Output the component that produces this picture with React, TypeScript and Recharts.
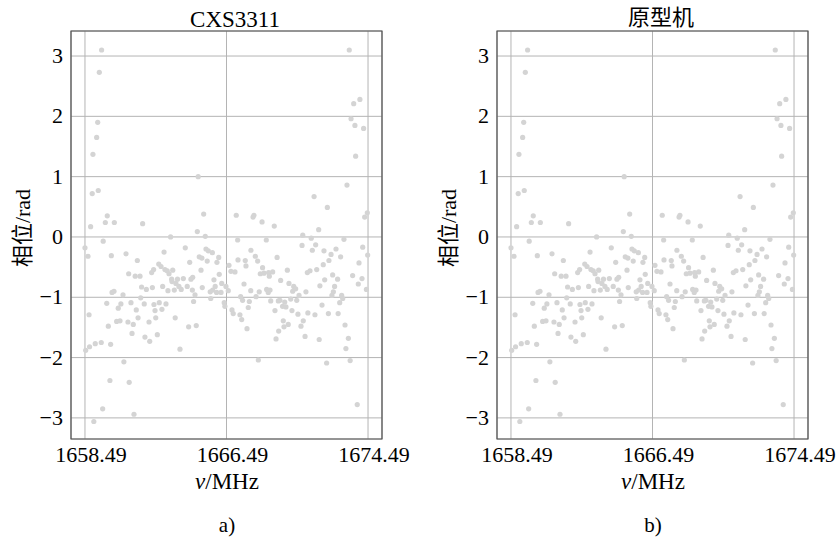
import React from 'react';
import { ScatterChart, Scatter, XAxis, YAxis, CartesianGrid, ReferenceArea } from 'recharts';

const freqMHz = [
  1658.49, 1658.53, 1658.66, 1658.72, 1658.75, 1658.81, 1658.9, 1658.94, 1658.99, 1659.07,
  1659.15, 1659.21, 1659.24, 1659.3, 1659.41, 1659.43, 1659.49, 1659.52, 1659.64, 1659.72,
  1659.75, 1659.81, 1659.9, 1659.94, 1659.98, 1660.02, 1660.13, 1660.15, 1660.28, 1660.37,
  1660.47, 1660.52, 1660.64, 1660.69, 1660.81, 1660.92, 1660.96, 1660.99, 1661.09, 1661.15,
  1661.22, 1661.26, 1661.33, 1661.39, 1661.45, 1661.49, 1661.6, 1661.64, 1661.69, 1661.75,
  1661.84, 1661.88, 1661.96, 1662.11, 1662.15, 1662.26, 1662.3, 1662.37, 1662.39, 1662.45,
  1662.49, 1662.58, 1662.66, 1662.69, 1662.79, 1662.84, 1662.88, 1662.96, 1663.01, 1663.07,
  1663.14, 1663.18, 1663.24, 1663.33, 1663.39, 1663.41, 1663.45, 1663.54, 1663.59, 1663.63,
  1663.72, 1663.8, 1663.86, 1663.93, 1664.05, 1664.16, 1664.27, 1664.35, 1664.41, 1664.48,
  1664.58, 1664.56, 1664.63, 1664.71, 1664.78, 1664.84, 1664.89, 1664.95, 1665.05, 1665.1,
  1665.12, 1665.2, 1665.29, 1665.33, 1665.4, 1665.46, 1665.57, 1665.6, 1665.69, 1665.71,
  1665.78, 1665.85, 1665.93, 1665.95, 1666.05, 1666.08, 1666.18, 1666.22, 1666.36, 1666.4,
  1666.46, 1666.59, 1666.63, 1666.74, 1666.8, 1666.87, 1666.97, 1667.04, 1667.12, 1667.14,
  1667.25, 1667.29, 1667.35, 1667.4, 1667.48, 1667.55, 1667.59, 1667.65, 1667.72, 1667.78,
  1667.86, 1667.87, 1667.99, 1668.04, 1668.12, 1668.16, 1668.25, 1668.29, 1668.34, 1668.4,
  1668.5, 1668.53, 1668.61, 1668.74, 1668.76, 1668.85, 1668.87, 1668.91, 1668.95, 1668.99,
  1669.1, 1669.19, 1669.23, 1669.29, 1669.35, 1669.42, 1669.44, 1669.51, 1669.55, 1669.66,
  1669.7, 1669.74, 1669.78, 1669.85, 1669.93, 1669.98, 1670.02, 1670.12, 1670.19, 1670.23,
  1670.29, 1670.4, 1670.46, 1670.53, 1670.59, 1670.7, 1670.76, 1670.8, 1670.83, 1670.93,
  1670.98, 1671.06, 1671.09, 1671.21, 1671.28, 1671.34, 1671.44, 1671.49, 1671.53, 1671.59,
  1671.7, 1671.73, 1671.77, 1671.89, 1671.96, 1672.0, 1672.04, 1672.15, 1672.19, 1672.25,
  1672.28, 1672.4, 1672.45, 1672.49, 1672.53, 1672.6, 1672.68, 1672.77, 1672.8, 1672.89,
  1672.94, 1673.0, 1673.06, 1673.13, 1673.19, 1673.24, 1673.3, 1673.38, 1673.43, 1673.48,
  1673.53, 1673.62, 1673.68, 1673.75, 1673.79, 1673.88, 1673.94, 1673.98, 1674.03, 1674.15,
  1674.19, 1674.24, 1674.3, 1674.4, 1674.45, 1674.47,
];

const phaseRad = [
  -0.18, -1.88, -0.32, -1.29, -1.82, 0.17, 0.72, 1.37, -3.06, -1.77,
  1.65, 1.9, 0.77, 2.73, -1.75, 3.1, -2.85, -0.07, 0.24, -1.1,
  0.35, -1.48, -2.38, -1.78, -0.31, -0.92, -0.9, 0.24, -1.4, -1.18,
  -1.39, -1.11, -0.96, -2.07, -0.28, -1.41, -0.61, -2.41, -1.09, -1.6,
  -1.45, -2.94, -0.65, -1.21, -0.39, -1.34, -0.65, -1.01, -0.83, 0.22,
  -1.11, -1.66, -0.87, -1.41, -1.73, -0.59, -0.84, -0.54, -1.12, -1.22,
  -1.34, -1.62, -0.45, -1.09, -0.49, -1.2, -0.82, -0.25, -0.54, -1.11,
  -0.56, -0.89, -0.61, 0.0, -0.7, -0.74, -0.55, -0.88, -1.34, -0.77,
  -0.7, -0.82, -1.86, -0.87, -0.69, -0.18, -0.82, -1.49, -0.42, -0.7,
  -0.67, -0.88, -1.07, -0.96, -1.47, 0.09, 1.0, -0.33, -0.55, -0.35,
  -0.84, 0.38, 0.01, -0.2, -0.4, -0.23, -0.91, -1.02, -0.26, -0.88,
  -0.71, -0.82, -0.92, -0.42, -0.34, -0.62, -0.92, -0.77, -1.09, -1.15,
  -0.82, -0.89, -0.47, -0.57, -1.21, -1.27, -0.58, 0.36, -0.05, -0.38,
  -1.29, -0.99, -1.37, -1.05, -0.78, -0.39, -0.48, -1.52, -1.17, -1.07,
  -0.89, -0.22, 0.33, 0.36, -0.32, -0.99, -0.4, -2.04, -0.91, -0.61,
  0.25, -0.51, -0.6, -0.05, -0.87, -0.92, -0.59, -0.65, -0.88, -1.06,
  -0.58, 0.18, -1.22, -1.69, -0.34, -1.06, -1.56, -1.05, -0.72, -1.15,
  -1.39, -1.49, -1.08, -1.16, -0.55, -1.45, -0.77, -1.03, -1.22, -0.9,
  -0.82, -0.86, -1.05, -1.28, -0.97, -1.48, -0.14, 0.03, -1.39, -1.65,
  -0.91, -0.59, -1.26, -0.56, -0.02, -0.22, 0.67, -1.29, -0.13, -0.54,
  0.12, -1.7, -0.81, -1.13, -0.46, -0.23, -0.71, -2.09, 0.49, -1.27,
  -0.39, -0.29, -0.97, -0.63, -0.91, -0.82, -0.2, -0.7, -1.27, -1.09,
  -0.33, -0.97, -1.02, -0.04, -1.46, -1.85, 0.86, -1.68, 3.1, -2.05,
  1.96, -0.64, 2.21, 1.85, 1.34, -2.78, -0.78, -0.43, 2.28, -0.69,
  -0.17, 1.8, 0.33, -0.87, 0.4, -0.3,
];

const xTicks = [1658.49, 1666.49, 1674.49];
const yTicks = [-3, -2, -1, 0, 1, 2, 3];
const panelTitles = ['CXS3311', '原型机'];
const panelTags = ['a)', 'b)'];

const points = freqMHz.map((f, i) => ({ f, p: phaseRad[i] }));

const X_DOMAIN: [number, number] = [1657.7, 1675.28];
const Y_DOMAIN: [number, number] = [-3.35, 3.415];
const SERIF = 'Times New Roman, Liberation Serif, Noto Sans CJK SC, serif';

const dot = (props: any) => <circle cx={props.cx} cy={props.cy} r={2.6} fill="#d4d4d4" />;

const XTick = (props: any) => (
  <text x={props.x} y={props.y} dx={6} dy={15} textAnchor="middle" fontSize={22} fill="#000" fontFamily={SERIF}>
    {Number(props.payload.value).toFixed(2)}
  </text>
);

const YTick = (props: any) => {
  const v = props.payload.value;
  return (
    <text x={props.x} y={props.y} dy={7} textAnchor="end" fontSize={22} fill="#000" fontFamily={SERIF}>
      {v < 0 ? '\u2212' + Math.abs(v) : String(v)}
    </text>
  );
};

const Panel = ({ left }: { left: number }) => (
  <div style={{ position: 'absolute', left, top: 0 }}>
    <ScatterChart width={420} height={480} margin={{ top: 31, right: 38, bottom: 0, left: 0 }}>
      <CartesianGrid stroke="#b4b4b4" strokeWidth={1} />
      <XAxis
        type="number"
        dataKey="f"
        domain={X_DOMAIN}
        ticks={xTicks}
        interval={0}
        height={41}
        axisLine={false}
        tickLine={false}
        tick={<XTick />}
      />
      <YAxis
        type="number"
        dataKey="p"
        domain={Y_DOMAIN}
        ticks={yTicks}
        interval={0}
        width={71}
        axisLine={false}
        tickLine={false}
        tick={<YTick />}
      />
      <Scatter data={points} shape={dot} isAnimationActive={false} />
      <ReferenceArea
        x1={X_DOMAIN[0]}
        x2={X_DOMAIN[1]}
        y1={Y_DOMAIN[0]}
        y2={Y_DOMAIN[1]}
        fill="none"
        stroke="#505050"
        strokeWidth={1.2}
        fillOpacity={0}
      />
    </ScatterChart>
  </div>
);

export default function App() {
  const offsets = [0, 426];
  return (
    <div style={{ position: 'absolute', left: 0, top: 0, width: 840, height: 538, background: '#fff' }}>
      {offsets.map((o) => (
        <Panel key={o} left={o} />
      ))}
      <svg width={840} height={538} style={{ position: 'absolute', left: 0, top: 0, pointerEvents: 'none' }}>
        {offsets.map((o, i) => (
          <g key={o} fontFamily={SERIF} fill="#000">
            <text x={o + 235} y={i === 0 ? 27 : 25} textAnchor="middle" fontSize={i === 0 ? 23 : 22}>
              {panelTitles[i]}
            </text>
            <text transform={`translate(${o + 30},228) rotate(-90)`} textAnchor="middle" fontSize={22}>
              相位/rad
            </text>
            <text x={o + 227} y={489} textAnchor="middle" fontSize={23}>
              <tspan fontStyle="italic">v</tspan>/MHz
            </text>
            <text x={o + 227} y={532} textAnchor="middle" fontSize={21}>
              {panelTags[i]}
            </text>
          </g>
        ))}
      </svg>
    </div>
  );
}
